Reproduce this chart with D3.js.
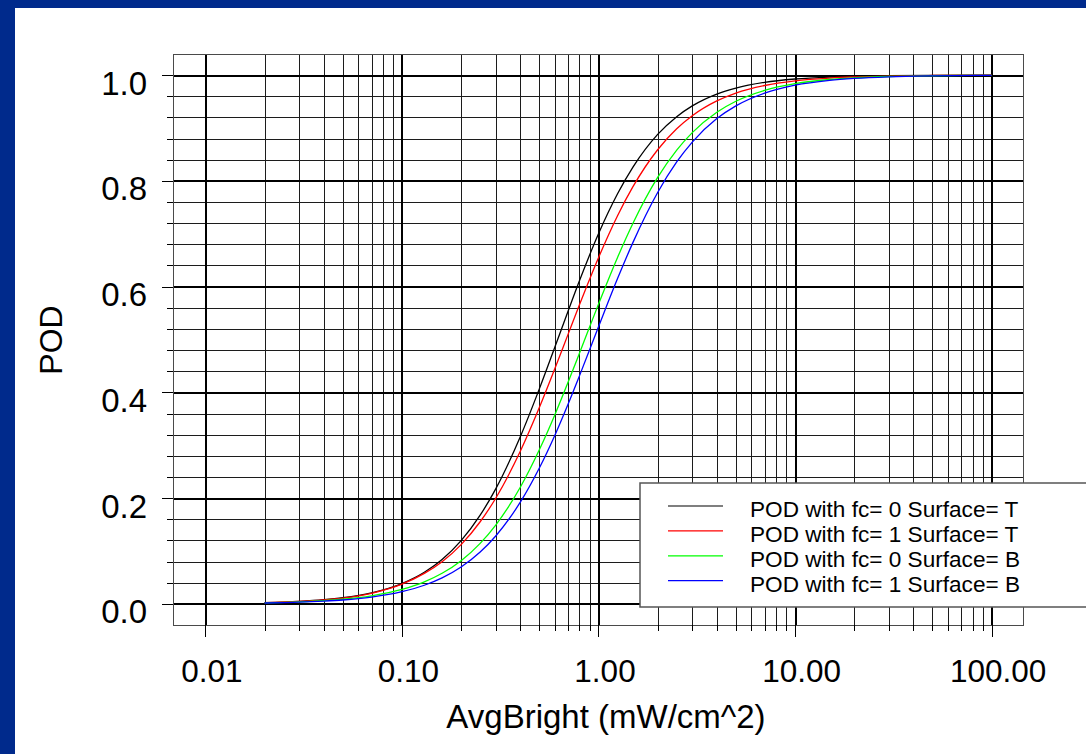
<!DOCTYPE html>
<html>
<head>
<meta charset="utf-8">
<script src="https://cdn.jsdelivr.net/npm/d3@7"></script>
<style>
  html, body { margin: 0; padding: 0; background: #fff; }
  svg { display: block; }
  text { font-family: "Liberation Sans", Arial, Helvetica, sans-serif; fill: #000; }
</style>
</head>
<body>
<svg id="chart" width="1086" height="754"></svg>
<script>
// POD curves vs. average brightness

var xValues = [0.02, 0.03, 0.04, 0.05, 0.07, 0.1, 0.13, 0.16, 0.2, 0.25, 0.3, 0.4, 0.5,
               0.6, 0.7, 0.8, 1, 1.25, 1.5, 2, 2.5, 3, 4, 5, 7, 10, 15, 20, 30, 50, 100];

var podFc0SurfT = [0.0023, 0.0048, 0.0079, 0.0116, 0.0208, 0.0384, 0.0597, 0.0839, 0.1196,
                   0.1677, 0.2175, 0.3160, 0.4066, 0.4858, 0.5535, 0.6110, 0.7000, 0.7756,
                   0.8265, 0.8879, 0.9215, 0.9419, 0.9642, 0.9756, 0.9864, 0.9927, 0.9964,
                   0.9978, 0.9989, 0.9996, 0.9999];
var podFc1SurfT = [0.0022, 0.0045, 0.0075, 0.0110, 0.0200, 0.0372, 0.0576, 0.0797, 0.1121,
                   0.1553, 0.1998, 0.2885, 0.3712, 0.4450, 0.5097, 0.5656, 0.6547, 0.7342,
                   0.7895, 0.8589, 0.8986, 0.9233, 0.9513, 0.9661, 0.9804, 0.9892, 0.9945,
                   0.9966, 0.9983, 0.9993, 0.9998];
var podFc0SurfB = [0.0019, 0.0037, 0.0060, 0.0087, 0.0152, 0.0272, 0.0416, 0.0578, 0.0817,
                   0.1144, 0.1491, 0.2206, 0.2915, 0.3578, 0.4190, 0.4740, 0.5669, 0.6552,
                   0.7203, 0.8065, 0.8582, 0.8913, 0.9299, 0.9507, 0.9712, 0.9839, 0.9918,
                   0.9949, 0.9974, 0.9989, 0.9997];
var podFc1SurfB = [0.0016, 0.0031, 0.0051, 0.0073, 0.0128, 0.0230, 0.0352, 0.0491, 0.0697,
                   0.0980, 0.1284, 0.1923, 0.2570, 0.3191, 0.3775, 0.4312, 0.5240, 0.6152,
                   0.6842, 0.7780, 0.8358, 0.8734, 0.9178, 0.9419, 0.9660, 0.9810, 0.9902,
                   0.9939, 0.9969, 0.9987, 0.9996];

var seriesNames = ["POD with fc= 0 Surface= T", "POD with fc= 1 Surface= T",
                   "POD with fc= 0 Surface= B", "POD with fc= 1 Surface= B"];
var seriesValues = [podFc0SurfT, podFc1SurfT, podFc0SurfB, podFc1SurfB];
var seriesColors = ["#000000", "#ff0000", "#00ff00", "#0000ff"];

var xTickValues = [0.01, 0.1, 1, 10, 100];
var xTickLabels = ["0.01", "0.10", "1.00", "10.00", "100.00"];
var yTickValues = [0, 0.2, 0.4, 0.6, 0.8, 1.0];
var yTickLabels = ["0.0", "0.2", "0.4", "0.6", "0.8", "1.0"];

var xTitle = "AvgBright (mW/cm^2)",
    yTitle = "POD";

///////////////////////////////////////////////////////////////////////////////
// Layout

var width = 1086, height = 754;
var plot = {left: 173, top: 54, right: 1023, bottom: 625};
var plotW = plot.right - plot.left,
    plotH = plot.bottom - plot.top;

var svg = d3.select("#chart");

// slide frame
svg.append("rect").attr("width", width).attr("height", height).attr("fill", "#002a8c");
svg.append("rect").attr("x", 15).attr("y", 8)
  .attr("width", width).attr("height", height).attr("fill", "#ffffff");

var x = d3.scaleLog().domain([0.00684, 144.5]).range([plot.left, plot.right]);
var y = d3.scaleLinear().domain([-0.04, 1.04]).range([plot.bottom, plot.top]);

// minor positions: 2..9 within each decade, every 0.04 on y
var xMinor = [];
xTickValues.slice(0, -1).forEach(function (d) {
  for (var k = 2; k <= 9; k++) xMinor.push(d * k);
});
var yMinor = d3.range(0, 26).map(function (i) { return +(i * 0.04).toFixed(2); })
  .filter(function (v) { return Math.abs(v * 5 - Math.round(v * 5)) > 1e-6; });

///////////////////////////////////////////////////////////////////////////////
// Grid

var styleGrid = function (g, color, w) {
  g.select(".domain").remove();
  g.selectAll("line").attr("stroke", color).attr("stroke-width", w)
    .attr("shape-rendering", "crispEdges");
};

svg.append("g").attr("transform", "translate(0," + plot.bottom + ")")
  .call(d3.axisBottom(x).tickValues(xMinor).tickSize(-plotH).tickFormat(""))
  .call(styleGrid, "#1c1c1c", 1);
svg.append("g").attr("transform", "translate(" + plot.left + ",0)")
  .call(d3.axisLeft(y).tickValues(yMinor).tickSize(-plotW).tickFormat(""))
  .call(styleGrid, "#1c1c1c", 1);
svg.append("g").attr("transform", "translate(0," + plot.bottom + ")")
  .call(d3.axisBottom(x).tickValues(xTickValues).tickSize(-plotH).tickFormat(""))
  .call(styleGrid, "#000", 2);
svg.append("g").attr("transform", "translate(" + plot.left + ",0)")
  .call(d3.axisLeft(y).tickValues(yTickValues).tickSize(-plotW).tickFormat(""))
  .call(styleGrid, "#000", 2);

svg.append("rect")
  .attr("x", plot.left).attr("y", plot.top)
  .attr("width", plotW).attr("height", plotH)
  .attr("fill", "none").attr("stroke", "#4a4a4a").attr("stroke-width", 1)
  .attr("shape-rendering", "crispEdges");

///////////////////////////////////////////////////////////////////////////////
// Axes (outer ticks + labels)

var xMinorAxis = svg.append("g").attr("transform", "translate(0," + plot.bottom + ")")
  .call(d3.axisBottom(x).tickValues(xMinor).tickSize(6).tickSizeOuter(0).tickFormat(""));
xMinorAxis.select(".domain").remove();

var xAxis = svg.append("g").attr("transform", "translate(0," + plot.bottom + ")")
  .call(d3.axisBottom(x).tickValues(xTickValues).tickSize(12).tickSizeOuter(0)
    .tickFormat(function (d, i) { return xTickLabels[i]; }));
xAxis.select(".domain").remove();
xAxis.selectAll("text")
  .attr("y", 57).attr("dy", 0).attr("dx", 6)
  .style("font-size", "31.5px");

var yMinorAxis = svg.append("g").attr("transform", "translate(" + plot.left + ",0)")
  .call(d3.axisLeft(y).tickValues(yMinor).tickSize(6).tickSizeOuter(0).tickFormat(""));
yMinorAxis.select(".domain").remove();

var yAxis = svg.append("g").attr("transform", "translate(" + plot.left + ",0)")
  .call(d3.axisLeft(y).tickValues(yTickValues).tickSize(11).tickSizeOuter(0)
    .tickFormat(function (d, i) { return yTickLabels[i]; }));
yAxis.select(".domain").remove();
yAxis.selectAll("text")
  .attr("x", -26).attr("dy", 0).attr("y", 19)
  .style("font-size", "33px");

svg.selectAll(".tick line").attr("shape-rendering", "crispEdges");
svg.selectAll(".tick text").attr("fill", "#000").style("font-family", null);

svg.append("text")
  .attr("x", 606).attr("y", 728)
  .attr("text-anchor", "middle")
  .style("font-size", "33px")
  .text(xTitle);

svg.append("text")
  .attr("transform", "translate(62,340) rotate(-90)")
  .attr("text-anchor", "middle")
  .style("font-size", "32px")
  .text(yTitle);

///////////////////////////////////////////////////////////////////////////////
// Curves

var line = d3.line()
  .x(function (d) { return x(d[0]); })
  .y(function (d) { return y(d[1]); })
  .curve(d3.curveMonotoneX);

seriesValues.forEach(function (vals, i) {
  svg.append("path")
    .datum(d3.zip(xValues, vals))
    .attr("fill", "none")
    .attr("stroke", seriesColors[i])
    .attr("stroke-width", 1.3)
    .attr("d", line);
});

///////////////////////////////////////////////////////////////////////////////
// Legend

var legend = svg.append("g").attr("transform", "translate(640,483)");
legend.append("rect")
  .attr("width", 470).attr("height", 124)
  .attr("fill", "#fff").attr("stroke", "#555").attr("stroke-width", 1.5);

var items = legend.selectAll(".item")
  .data(seriesNames)
  .enter().append("g")
  .attr("class", "item")
  .attr("transform", function (d, i) { return "translate(0," + (23 + i * 24.9) + ")"; });

items.append("line")
  .attr("x1", 28).attr("x2", 83)
  .attr("stroke", function (d, i) { return seriesColors[i]; })
  .attr("stroke-width", 1.2);

items.append("text")
  .attr("x", 110).attr("y", 11)
  .style("font-size", "22.6px")
  .text(function (d) { return d; });
</script>
</body>
</html>
